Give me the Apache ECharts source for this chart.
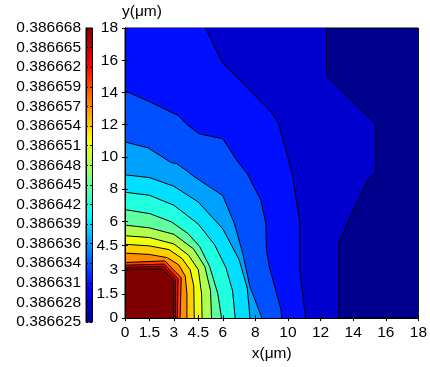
<!DOCTYPE html>
<html>
<head>
<meta charset="utf-8">
<script src="https://cdn.jsdelivr.net/npm/echarts@6/dist/echarts.min.js"></script>
<style>
  html, body { margin: 0; padding: 0; background: #fff; }
  #main { width: 430px; height: 367px; }
</style>
</head>
<body>
<div id="main"></div>
<script>
// tick values on both axes (µm)
var xTicks = [0, 1.5, 3, 4.5, 6, 8, 10, 12, 14, 16, 18]
var yTicks = [0, 1.5, 3, 4.5, 6, 8, 10, 12, 14, 16, 18]

// contour levels (colorbar ticks)
var levels = [0.38662500, 0.38662787, 0.38663073, 0.38663360, 0.38663647, 0.38663933,
    0.38664220, 0.38664507, 0.38664793, 0.38665080, 0.38665367, 0.38665653,
    0.38665940, 0.38666227, 0.38666513, 0.38666800]

// fill colour of each band (band 0 = below level 1)
var bandColors = ['#00008f', '#0000cf', '#0010ff', '#0050ff', '#00a0ff', '#00dfff',
    '#20ffdf', '#60ff9f', '#afff50', '#efff10', '#ffcf00', '#ff8f00',
    '#ff4000', '#ff0000', '#bf0000', '#800000']

// jet colormap for the colorbar
var jetStops = [[0, '#00008f'], [0.111, '#0000ff'], [0.365, '#00ffff'],
    [0.619, '#ffff00'], [0.873, '#ff0000'], [1, '#800000']]

// contour lines for levels 1..15 as [x, y] in µm
var contourPaths = [
    [[12.37, 18], [12.37, 15.05], [15.39, 12.05], [15.39, 9.03], [14.95, 8.67], [13.69, 6.01], [13.12, 4.58], [13.12, 0]],
    [[4.94, 18], [5.96, 15.87], [8.95, 12.81], [9.42, 12.09], [10.27, 8.93], [10.72, 6.01], [10.72, 3.01], [11.08, 0]],
    [[0, 14.1], [1.53, 13.42], [2.99, 12.7], [3.25, 12.6], [3.76, 12.05], [4.53, 11.44], [6.0, 11.13], [6.85, 9.8], [7.52, 8.93], [8.34, 7.3], [8.64, 5.87], [8.68, 4.24], [8.85, 3.21], [9.56, 0.56], [9.62, 0]],
    [[0, 10.93], [1.42, 10.56], [2.85, 9.64], [3.15, 9.6], [3.86, 9.09], [4.17, 8.83], [6.0, 7.6], [6.71, 5.87], [7.22, 4.03], [7.65, 2.0], [8.1, 0.8], [8.4, 0]],
    [[0, 8.89], [1.5, 8.72], [3, 8.18], [4.5, 7.2], [6, 5.54], [7, 3.63], [7.5, 1.86], [7.67, 0]],
    [[0, 7.81], [1.5, 7.62], [3, 7.0], [4.5, 5.83], [5.5, 4.54], [6.2, 3.11], [6.6, 1.69], [6.76, 0]],
    [[0, 6.73], [1.53, 6.48], [2.85, 5.97], [3.86, 5.25], [4.58, 4.44], [5.19, 3.21], [5.7, 1.5], [5.92, 0]],
    [[0, 5.77], [1.5, 5.6], [3.0, 5.2], [4.2, 4.3], [4.9, 3.2], [5.25, 1.7], [5.31, 0]],
    [[0, 5.11], [1.5, 5.0], [3.0, 4.6], [3.9, 3.9], [4.5, 3.0], [4.7, 1.5], [4.73, 0]],
    [[0, 4.58], [1.5, 4.48], [2.7, 4.25], [3.5, 3.7], [4.0, 3.0], [4.22, 2.0], [4.25, 0]],
    [[0, 4.03], [1.5, 3.95], [2.6, 3.75], [3.3, 3.3], [3.7, 2.6], [3.8, 1.5], [3.8, 0]],
    [[0, 3.45], [2.45, 3.55], [3.45, 2.5], [3.38, 0]],
    [[0, 3.28], [2.4, 3.35], [3.25, 2.45], [3.21, 0]],
    [[0, 3.15], [2.35, 3.2], [3.1, 2.4], [3.08, 0]],
    [[0, 3.03], [2.3, 3.05], [3.0, 2.3], [2.97, 0]]
]

var font = 'Liberation Sans, Arial, Helvetica, sans-serif'
var fs = 15.5

function renderContour (params, api) {
    var path = contourPaths[params.dataIndex]
    var pts = path.map(function (p) { return api.coord(p) })
    var poly = pts.slice()
    // close the region towards the origin corner
    if (path[0][0] > 0) {
        poly.unshift(api.coord([0, path[0][1]]))
    }
    poly.push(api.coord([0, 0]))
    return {
        type: 'group',
        children: [
            { type: 'polygon', shape: { points: poly }, style: { fill: bandColors[params.dataIndex + 1] } },
            { type: 'polyline', shape: { points: pts }, style: { stroke: '#000', lineWidth: 1, fill: null } }
        ]
    }
}

function renderColorbar (params, api) {
    var p0 = api.coord([0, levels[levels.length - 1]])
    var p1 = api.coord([1, levels[0]])
    var stops = jetStops.map(function (s) { return { offset: 1 - s[0], color: s[1] } })
    return {
        type: 'rect',
        shape: { x: p0[0], y: p0[1], width: p1[0] - p0[0], height: p1[1] - p0[1] },
        style: { fill: new echarts.graphic.LinearGradient(0, 0, 0, 1, stops) }
    }
}

var tickStyle = { show: true, inside: true, length: 3, lineStyle: { color: '#000' } }
var lineStyle = { show: true, lineStyle: { color: '#000', width: 1 } }

var myChart = echarts.init(document.getElementById('main'), null, { renderer: 'canvas' })
var option = {
    animation: false,
    textStyle: { fontFamily: font },
    grid: [
        { left: 125, top: 28, width: 295, height: 294, show: true, backgroundColor: bandColors[0], borderColor: '#000', borderWidth: 1 },
        { left: 86, top: 28, width: 6, height: 294, show: true, borderColor: '#000', borderWidth: 1 }
    ],
    xAxis: [
        {
            gridIndex: 0, type: 'value', min: 0, max: 18, position: 'bottom', z: 5,
            name: 'x(μm)', nameLocation: 'middle', nameGap: 22,
            nameTextStyle: { color: '#000', fontSize: fs, fontFamily: font },
            axisLine: lineStyle,
            axisTick: Object.assign({ customValues: xTicks }, tickStyle),
            axisLabel: { customValues: xTicks, color: '#000', fontSize: fs, margin: 7, fontFamily: font },
            splitLine: { show: false }
        },
        {
            gridIndex: 0, type: 'value', min: 0, max: 18, position: 'top', z: 5,
            axisLine: lineStyle,
            axisTick: Object.assign({ customValues: xTicks }, tickStyle),
            axisLabel: { show: false },
            splitLine: { show: false }
        },
        {
            gridIndex: 1, type: 'value', min: 0, max: 1, show: false
        }
    ],
    yAxis: [
        {
            gridIndex: 0, type: 'value', min: 0, max: 18, position: 'left', z: 5,
            name: 'y(μm)', nameLocation: 'end', nameGap: 6,
            nameTextStyle: { color: '#000', fontSize: fs, fontFamily: font, align: 'left', padding: [0, 0, 0, -3] },
            axisLine: lineStyle,
            axisTick: Object.assign({ customValues: yTicks }, tickStyle),
            axisLabel: { customValues: yTicks, color: '#000', fontSize: fs, margin: 7, fontFamily: font },
            splitLine: { show: false }
        },
        {
            gridIndex: 0, type: 'value', min: 0, max: 18, position: 'right', z: 5,
            axisLine: lineStyle,
            axisTick: Object.assign({ customValues: yTicks }, tickStyle),
            axisLabel: { show: false },
            splitLine: { show: false }
        },
        {
            gridIndex: 1, type: 'value', min: levels[0], max: levels[levels.length - 1], position: 'left', z: 5,
            axisLine: lineStyle,
            axisTick: { show: true, inside: true, length: 2, customValues: levels, lineStyle: { color: '#000' } },
            axisLabel: {
                customValues: levels, color: '#000', fontSize: fs, margin: 5, fontFamily: font,
                formatter: function (v) { return v.toFixed(6) }
            },
            splitLine: { show: false }
        },
        {
            gridIndex: 1, type: 'value', min: levels[0], max: levels[levels.length - 1], position: 'right', z: 5,
            axisLine: lineStyle,
            axisTick: { show: true, inside: true, length: 2, customValues: levels, lineStyle: { color: '#000' } },
            axisLabel: { show: false },
            splitLine: { show: false }
        }
    ],
    series: [
        {
            type: 'custom',
            xAxisIndex: 0,
            yAxisIndex: 0,
            renderItem: renderContour,
            data: contourPaths.map(function (p, i) { return [i, i] })
        },
        {
            type: 'custom',
            xAxisIndex: 2,
            yAxisIndex: 2,
            renderItem: renderColorbar,
            data: [[0, levels[0]]]
        }
    ]
}
myChart.setOption(option)
window.onresize = myChart.resize
</script>
</body>
</html>
